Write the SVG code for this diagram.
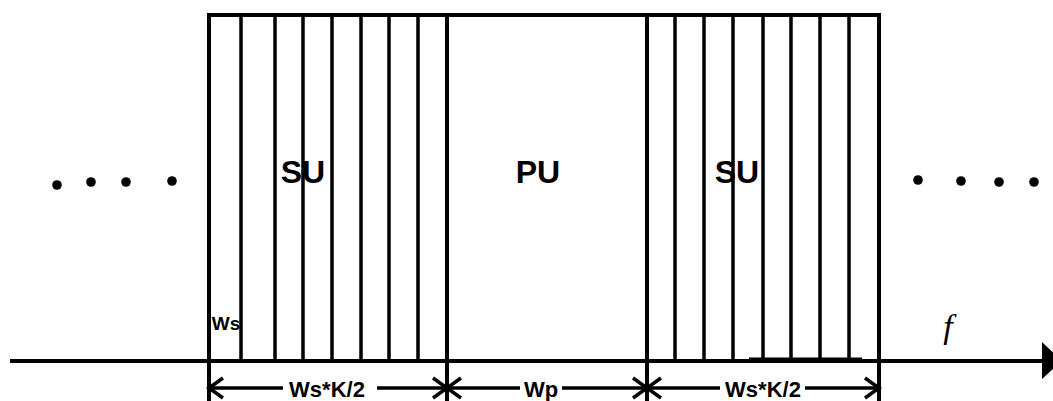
<svg xmlns="http://www.w3.org/2000/svg" width="1053" height="401" viewBox="0 0 1053 401">
<style>
.ln{stroke:#000;stroke-width:3.5;fill:none;stroke-linecap:butt}
.bd{stroke:#000;stroke-width:4;fill:none}
.lbl{font-family:"Liberation Sans",Arial,sans-serif;font-weight:bold;font-size:32px;fill:#000;text-anchor:middle}
.dim{font-family:"Liberation Sans",Arial,sans-serif;font-weight:bold;font-size:22px;fill:#000;text-anchor:middle}
.dot{fill:#000}
</style>
<rect width="1053" height="401" fill="#fff"/>
<g id="su-left">
<path class="ln" d="M241,15V363M275,15V361M303,15V361M332,15V361M361,15V361M389,15V361M418,15V361"/>
<text class="lbl" x="303" y="183">SU</text>
<text class="dim" x="226" y="330" style="font-size:19px">Ws</text>
</g>
<g id="pu">
<text class="lbl" x="538" y="183">PU</text>
</g>
<g id="su-right">
<path class="ln" d="M675,15V361M704,15V361M733,15V361M763,15V361M791,15V361M820,15V361M849,15V361"/>
<line class="ln" x1="749" y1="358.5" x2="862" y2="358.5" style="stroke-width:2"/>
<text class="lbl" x="737" y="183">SU</text>
</g>
<g id="band">
<path class="bd" d="M209,15H879M209,13V401M879,13V401"/>
<path class="bd" d="M447,15V401M647,15V401"/>
</g>
<g id="dots-left">
<circle class="dot" cx="57" cy="185" r="4.8"/>
<circle class="dot" cx="91" cy="182" r="4.8"/>
<circle class="dot" cx="126" cy="182" r="4.8"/>
<circle class="dot" cx="172" cy="181" r="4.8"/>
</g>
<g id="dots-right">
<circle class="dot" cx="918" cy="180" r="4.8"/>
<circle class="dot" cx="961" cy="181" r="4.8"/>
<circle class="dot" cx="999" cy="182" r="4.8"/>
<circle class="dot" cx="1034" cy="182" r="4.8"/>
</g>
<g id="axis">
<line x1="10" y1="361" x2="1044" y2="361" stroke="#000" stroke-width="4"/>
<polygon points="1042,342 1062,361 1042,379" fill="#000"/>
<text x="948" y="338" font-family="'Liberation Serif','Times New Roman',serif" font-style="italic" font-size="34" text-anchor="middle" fill="#000">f</text>
</g>
<g id="connectors">
<path class="ln" d="M209,388H283M377,388H447M447,388H520M562,388H647M647,388H720M805,388H879"/>
<path class="ln" d="M223,378L209,388L223,398M433,378L447,388L433,398M461,378L447,388L461,398M633,378L647,388L633,398M661,378L647,388L661,398M865,378L879,388L865,398"/>
<text class="dim" x="327" y="397">Ws*K/2</text>
<text class="dim" x="541" y="397">Wp</text>
<text class="dim" x="763" y="397">Ws*K/2</text>
</g>
</svg>
